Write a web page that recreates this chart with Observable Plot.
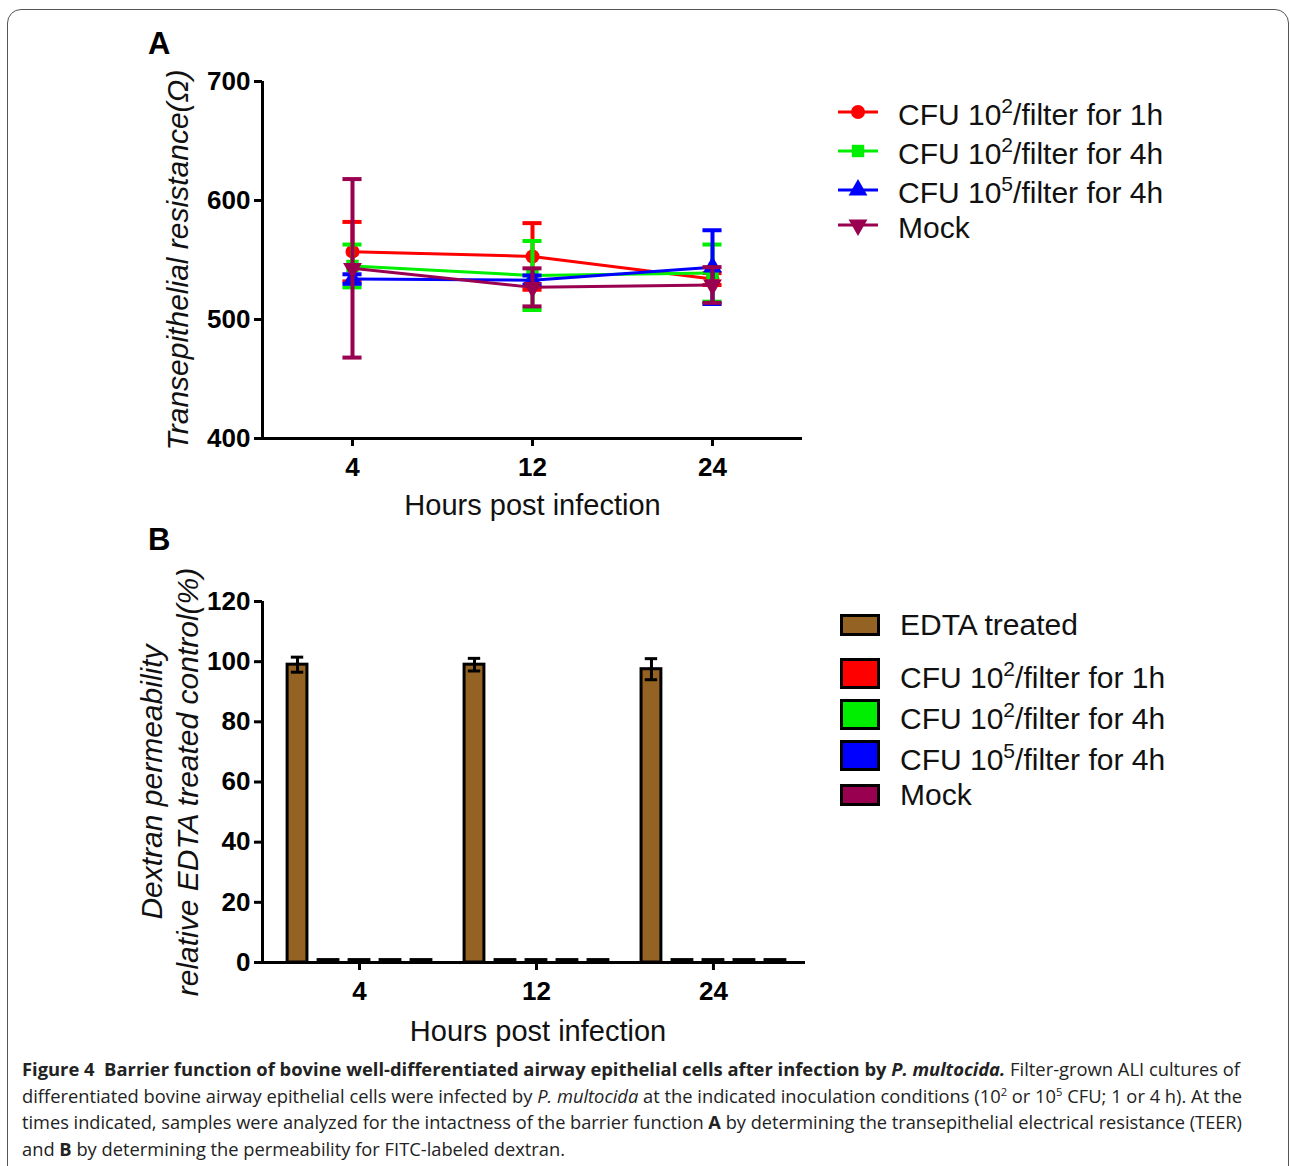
<!DOCTYPE html>
<html>
<head>
<meta charset="utf-8">
<script src="https://cdn.jsdelivr.net/npm/d3@7"></script>
<script src="https://cdn.jsdelivr.net/npm/@observablehq/plot@0.6"></script>
<style>
  html, body { margin: 0; padding: 0; background: #fff; }
  body { width: 1290px; height: 1166px; overflow: hidden; position: relative; font-family: "Liberation Sans", Arial, sans-serif; color: #000; }
  #border { position: absolute; left: 7px; top: 9px; width: 1282px; height: 1400px; border: 1.5px solid #555; border-radius: 14px; box-sizing: border-box; }
  .panel { position: absolute; font-weight: bold; font-size: 31px; line-height: 1; }
  .plot { position: absolute; left: 0; }
  .leg { position: absolute; height: 36px; line-height: 36px; font-size: 30px; white-space: nowrap; color: #111; }
  .leg sup { font-size: 21px; line-height: 0; vertical-align: 12px; }
  .sw { position: absolute; width: 40px; border: 3px solid #000; box-sizing: border-box; }
  .sym { position: absolute; }
  #caption { position: absolute; left: 0; top: 1040px; }
</style>
</head>
<body>
<div id="border"></div>
<div class="panel" style="left:148px; top:28px;">A</div>
<div class="panel" style="left:148px; top:524px;">B</div>
<div id="plotA" class="plot" style="top:0px;"></div>
<div id="plotB" class="plot" style="top:520px;"></div>
<div id="legA"></div>
<div id="legB"></div>
<svg id="caption" width="1290" height="126" font-family="'Open Sans', sans-serif" font-size="18" fill="#222">
  <text x="22" y="36" textLength="1218" lengthAdjust="spacingAndGlyphs"><tspan font-weight="700">Figure 4&#160;&#160;Barrier function of bovine well-differentiated airway epithelial cells after infection by </tspan><tspan font-weight="700" font-style="italic">P. multocida.</tspan> Filter-grown ALI cultures of</text>
  <text x="22" y="63" textLength="1220" lengthAdjust="spacingAndGlyphs">differentiated bovine airway epithelial cells were infected by <tspan font-style="italic">P. multocida</tspan> at the indicated inoculation conditions (10<tspan dy="-7" font-size="11">2</tspan><tspan dy="7"> or 10</tspan><tspan dy="-7" font-size="11">5</tspan><tspan dy="7"> CFU; 1 or 4 h). At the</tspan></text>
  <text x="22" y="89" textLength="1220" lengthAdjust="spacingAndGlyphs">times indicated, samples were analyzed for the intactness of the barrier function <tspan font-weight="700">A</tspan> by determining the transepithelial electrical resistance (TEER)</text>
  <text x="22" y="116" textLength="543" lengthAdjust="spacingAndGlyphs">and <tspan font-weight="700">B</tspan> by determining the permeability for FITC-labeled dextran.</text>
</svg>
<script>
// ---------------- DATA ----------------
const hours = ["4", "12", "24"];

// Panel A: transepithelial resistance (Ω), mean and error
const teerLabels = ["CFU 10<sup>2</sup>/filter for 1h", "CFU 10<sup>2</sup>/filter for 4h", "CFU 10<sup>5</sup>/filter for 4h", "Mock"];
const teerColors = ["#ff0000", "#00ee00", "#0000ff", "#990050"];
const teerRed = [557, 553, 534];
const teerRedErr = [25, 28, 5];
const teerGreen = [545, 537, 539];
const teerGreenErr = [18, 29, 24];
const teerBlue = [534, 533, 544];
const teerBlueErr = [4, 4, 31];
const teerMock = [543, 527, 529];
const teerMockErr = [75, 16, 15];
const teerTicks = [400, 500, 600, 700];

// Panel B: dextran permeability (% of EDTA control)
const dexLabels = ["EDTA treated", "CFU 10<sup>2</sup>/filter for 1h", "CFU 10<sup>2</sup>/filter for 4h", "CFU 10<sup>5</sup>/filter for 4h", "Mock"];
const dexColors = ["#946222", "#ff0000", "#00ee00", "#0000ff", "#990050"];
const dexEdta = [99, 99, 97.5];
const dexEdtaErr = [2.5, 2.1, 3.5];
const dexRed = [0.8, 0.8, 0.8];
const dexGreen = [0.8, 0.8, 0.8];
const dexBlue = [0.8, 0.8, 0.8];
const dexMock = [0.8, 0.8, 0.8];
const dexTicks = [0, 20, 40, 60, 80, 100, 120];

// ---------------- BUILD ----------------
const FONT = "'Liberation Sans', Arial, sans-serif";
const sqrt3 = Math.sqrt(3);
const triangleDown = {
  draw(ctx, size) {
    const y = -Math.sqrt(size / (sqrt3 * 3));
    ctx.moveTo(0, -y * 2);
    ctx.lineTo(-sqrt3 * y, y);
    ctx.lineTo(sqrt3 * y, y);
    ctx.closePath();
  }
};
const teerSymbols = [d3.symbolCircle, d3.symbolSquare, d3.symbolTriangle, triangleDown];
const teerMeans = [teerRed, teerGreen, teerBlue, teerMock];
const teerErrs = [teerRedErr, teerGreenErr, teerBlueErr, teerMockErr];

const capA = 0.053; // half cap width in x units
const xMinA = -0.5, xMaxA = 2.5;

const marksA = [];
teerMeans.forEach((means, si) => {
  const rows = hours.map((h, hi) => ({hi, mean: means[hi], err: teerErrs[si][hi]}));
  const col = teerColors[si];
  marksA.push(
    Plot.line(rows, {x: "hi", y: "mean", stroke: col, strokeWidth: 3}),
    Plot.ruleX(rows, {x: "hi", y1: d => d.mean - d.err, y2: d => d.mean + d.err, stroke: col, strokeWidth: 4}),
    Plot.ruleY(rows, {y: d => d.mean + d.err, x1: d => d.hi - capA, x2: d => d.hi + capA, stroke: col, strokeWidth: 4}),
    Plot.ruleY(rows, {y: d => d.mean - d.err, x1: d => d.hi - capA, x2: d => d.hi + capA, stroke: col, strokeWidth: 4}),
    Plot.dot(rows, {x: "hi", y: "mean", fill: col, stroke: "none", symbol: () => teerSymbols[si], r: 7})
  );
});

const plotA = Plot.plot({
  width: 830, height: 530,
  marginLeft: 262, marginRight: 28, marginTop: 81, marginBottom: 92,
  style: {fontFamily: FONT, fontSize: "26px", color: "#000", background: "none", overflow: "visible"},
  x: {type: "linear", domain: [xMinA, xMaxA]},
  y: {type: "linear", domain: [400, 700]},
  symbol: {type: "identity"},
  marks: [
    ...marksA,
    Plot.ruleY([400], {strokeWidth: 3}),
    Plot.ruleX([xMinA], {strokeWidth: 3}),
    Plot.axisY({ticks: teerTicks, tickSize: 8, tickPadding: 4, strokeWidth: 3, fontWeight: "bold", fontSize: 26, label: null}),
    Plot.axisX({ticks: hours.map((h, i) => i), tickFormat: i => hours[i], tickSize: 8, tickPadding: 11, strokeWidth: 3, fontWeight: "bold", fontSize: 26, label: null}),
    Plot.text(["Transepithelial resistance(Ω)"], {text: d => d, frameAnchor: "left", textAnchor: "middle", lineAnchor: "middle", dx: -84, rotate: -90, fontSize: 30, fontStyle: "italic", fill: "#111"}),
    Plot.text(["Hours post infection"], {text: d => d, frameAnchor: "bottom", dy: 76, fontSize: 29, fill: "#111"})
  ]
});
document.getElementById("plotA").appendChild(plotA);

// Panel B
const G = 5.71;      // spacing between groups, in bar slots
const halfBar = 0.32;
const capB = 0.2;
const xMinB = -1.13, xMaxB = 16.39;
const dexValues = [dexEdta, dexRed, dexGreen, dexBlue, dexMock];
const dexRows = [];
hours.forEach((h, hi) => dexValues.forEach((vals, si) => dexRows.push({si, hi, c: hi * G + si, value: vals[hi]})));
const edtaRows = hours.map((h, hi) => ({c: hi * G, value: dexEdta[hi], err: dexEdtaErr[hi]}));

const plotB = Plot.plot({
  width: 830, height: 532,
  marginLeft: 262, marginRight: 25, marginTop: 81, marginBottom: 90,
  style: {fontFamily: FONT, fontSize: "26px", color: "#000", background: "none", overflow: "visible"},
  x: {type: "linear", domain: [xMinB, xMaxB]},
  y: {type: "linear", domain: [0, 120]},
  marks: [
    Plot.rect(dexRows, {x1: d => d.c - halfBar, x2: d => d.c + halfBar, y1: 0, y2: "value", fill: d => dexColors[d.si], stroke: "#000", strokeWidth: 3}),
    Plot.ruleX(edtaRows, {x: "c", y1: d => d.value - d.err, y2: d => d.value + d.err, strokeWidth: 3}),
    Plot.ruleY(edtaRows, {y: d => d.value + d.err, x1: d => d.c - capB, x2: d => d.c + capB, strokeWidth: 3}),
    Plot.ruleY(edtaRows, {y: d => d.value - d.err, x1: d => d.c - capB, x2: d => d.c + capB, strokeWidth: 3}),
    Plot.ruleY([0], {strokeWidth: 3}),
    Plot.ruleX([xMinB], {strokeWidth: 3}),
    Plot.axisY({ticks: dexTicks, tickSize: 8, tickPadding: 4, strokeWidth: 3, fontWeight: "bold", fontSize: 26, label: null}),
    Plot.axisX({ticks: hours.map((h, i) => i * G + 2), tickFormat: v => hours[Math.round((v - 2) / G)], tickSize: 8, tickPadding: 11, strokeWidth: 3, fontWeight: "bold", fontSize: 26, label: null}),
    Plot.text(["Dextran permeability\nrelative EDTA treated control(%)"], {text: d => d, frameAnchor: "left", textAnchor: "middle", lineAnchor: "middle", dx: -94, rotate: -90, lineHeight: 1.2, fontSize: 30, fontStyle: "italic", fill: "#111"}),
    Plot.text(["Hours post infection"], {text: d => d, frameAnchor: "bottom", dx: 4, dy: 78, fontSize: 29, fill: "#111"})
  ]
});
document.getElementById("plotB").appendChild(plotB);

// Legend A
const legARowY = [115, 154, 193, 228];
const legA = d3.select("#legA");
teerLabels.forEach((lab, i) => {
  const cy = legARowY[i];
  const svg = legA.append("svg").attr("class", "sym")
    .style("left", "836px").style("top", (cy - 3 - 14) + "px")
    .attr("width", 44).attr("height", 28);
  svg.append("line").attr("x1", 2).attr("x2", 42).attr("y1", 14).attr("y2", 14)
    .attr("stroke", teerColors[i]).attr("stroke-width", 3);
  svg.append("path").attr("transform", "translate(22,14)")
    .attr("d", d3.symbol(teerSymbols[i], Math.PI * 49)()).attr("fill", teerColors[i]);
  legA.append("div").attr("class", "leg").style("left", "898px").style("top", (cy - 18) + "px").html(lab);
});

// Legend B
const legBRowY = [625, 678, 719, 760, 795];
const legB = d3.select("#legB");
dexLabels.forEach((lab, i) => {
  const cy = legBRowY[i];
  const big = i >= 1 && i <= 3;
  const h = big ? 31 : 22;
  const sc = big ? cy - 5 : cy;
  legB.append("div").attr("class", "sw")
    .style("left", "840px").style("top", (sc - h / 2) + "px").style("height", h + "px")
    .style("background", dexColors[i]);
  legB.append("div").attr("class", "leg").style("left", "900px").style("top", (cy - 18) + "px").html(lab);
});
</script>
</body>
</html>
